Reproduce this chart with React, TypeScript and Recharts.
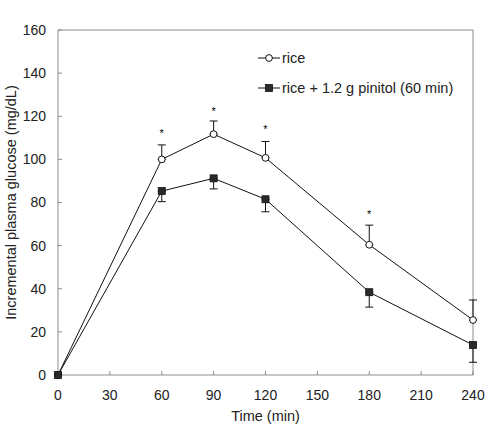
import React from 'react';
import { LineChart, Line, XAxis, YAxis, ErrorBar, Scatter, ReferenceLine, Legend } from 'recharts';

const times = [0, 60, 90, 120, 180, 240];
const rice = [0, 100, 111.7, 100.7, 60.4, 25.5];
const riceSem = [0, 6.7, 6.1, 7.6, 9.1, 9.3];
const pinitol = [0, 85.3, 91.2, 81.5, 38.4, 13.9];
const pinitolSem = [0, 4.9, 4.9, 5.8, 6.9, 8.0];
const starTimes = [60, 90, 120, 180];
const starLevels = [112.8, 122.9, 114.7, 75.3];
const xTicks = [0, 30, 60, 90, 120, 150, 180, 210, 240];
const yTicks = [0, 20, 40, 60, 80, 100, 120, 140, 160];
const seriesNames = ['rice', 'rice + 1.2 g pinitol (60 min)'];

const data = times.map((t, i) => ({
  time: t,
  rice: rice[i],
  riceErr: [0, riceSem[i]],
  pinitol: pinitol[i],
  pinitolErr: [pinitolSem[i], 0],
}));

const stars = starTimes.map((t, i) => ({ time: t, star: starLevels[i] }));

const AXIS = '#8c8c8c';
const FONT = 'Arial, "Liberation Sans", sans-serif';

const OpenCircle = (props: any) => {
  const { cx, cy } = props;
  if (cx == null || cy == null) return null;
  return <circle cx={cx} cy={cy} r={3.4} fill="#fff" stroke="#111" strokeWidth={1} />;
};

const FilledSquare = (props: any) => {
  const { cx, cy } = props;
  if (cx == null || cy == null) return null;
  return <rect x={cx - 3.5} y={cy - 3.5} width={7} height={7} fill="#2a2a2a" stroke="#111" strokeWidth={0.8} />;
};

// asterisk marking significance above the rice error bars
const Star = (props: any) => {
  const { cx, cy } = props;
  return (
    <text x={cx} y={cy} dy={5.5} textAnchor="middle" fontSize={11} fill="#000" stroke="none" fontFamily={FONT}>
      *
    </text>
  );
};

const renderLegend = () => (
  <svg width={230} height={50}>
    <line x1={3} x2={25} y1={8} y2={8} stroke="#111" strokeWidth={1} />
    <circle cx={14} cy={8} r={3.4} fill="#fff" stroke="#111" />
    <text x={27} y={8} dy={5} fontSize={14.5} fill="#222" fontFamily={FONT}>{seriesNames[0]}</text>
    <line x1={3} x2={25} y1={38} y2={38} stroke="#111" strokeWidth={1} />
    <rect x={10.5} y={34.5} width={7} height={7} fill="#2a2a2a" stroke="#111" strokeWidth={0.8} />
    <text x={27} y={38} dy={5} fontSize={14.5} fill="#222" fontFamily={FONT}>{seriesNames[1]}</text>
  </svg>
);

const YLabel = (props: any) => {
  const vb = props.viewBox || {};
  const cy = (vb.y ?? 30) + (vb.height ?? 345) / 2;
  return (
    <text x={11} y={cy} transform={`rotate(-90, 11, ${cy})`} textAnchor="middle" dy={5}
      fontSize={14.5} fill="#222" fontFamily={FONT}>
      Incremental plasma glucose (mg/dL)
    </text>
  );
};

const XLabel = (props: any) => {
  const vb = props.viewBox || {};
  const cx = (vb.x ?? 58) + (vb.width ?? 415) / 2;
  return (
    <text x={cx} y={421} textAnchor="middle" fontSize={14.5} fill="#222" fontFamily={FONT}>
      Time (min)
    </text>
  );
};

export default function App() {
  return (
    <div style={{ position: 'absolute', left: 0, top: 0, background: '#fff' }}>
      <LineChart width={490} height={445} data={data} margin={{ top: 30, right: 17, bottom: 0, left: 0 }}
        style={{ fontFamily: FONT }}>
        <XAxis dataKey="time" type="number" domain={[0, 240]} ticks={xTicks} interval={0}
          height={70} stroke={AXIS} tickSize={-4} tickMargin={19}
          tick={{ fill: '#222', fontSize: 14 }} label={<XLabel />} />
        <YAxis type="number" domain={[0, 160]} ticks={yTicks} interval={0} width={58}
          stroke={AXIS} tickSize={-4} tickMargin={16}
          tick={{ fill: '#222', fontSize: 14 }} label={<YLabel />} />
        <ReferenceLine y={160} stroke={AXIS} />
        <ReferenceLine x={240} stroke={AXIS} />
        <Line dataKey="rice" name={seriesNames[0]} stroke="#111" strokeWidth={1}
          dot={<OpenCircle />} activeDot={false} isAnimationActive={false}>
          <ErrorBar dataKey="riceErr" width={4} stroke="#111" strokeWidth={1} direction="y" />
        </Line>
        <Line dataKey="pinitol" name={seriesNames[1]} stroke="#111" strokeWidth={1}
          dot={<FilledSquare />} activeDot={false} isAnimationActive={false}>
          <ErrorBar dataKey="pinitolErr" width={4} stroke="#111" strokeWidth={1} direction="y" />
        </Line>
        <Scatter data={stars} dataKey="star" fill="#000" shape={<Star />} isAnimationActive={false} legendType="none" />
        <Legend layout="vertical" align="center" verticalAlign="middle" content={renderLegend}
          wrapperStyle={{ left: 255, top: 50, width: 230, height: 50 }} />
      </LineChart>
    </div>
  );
}
